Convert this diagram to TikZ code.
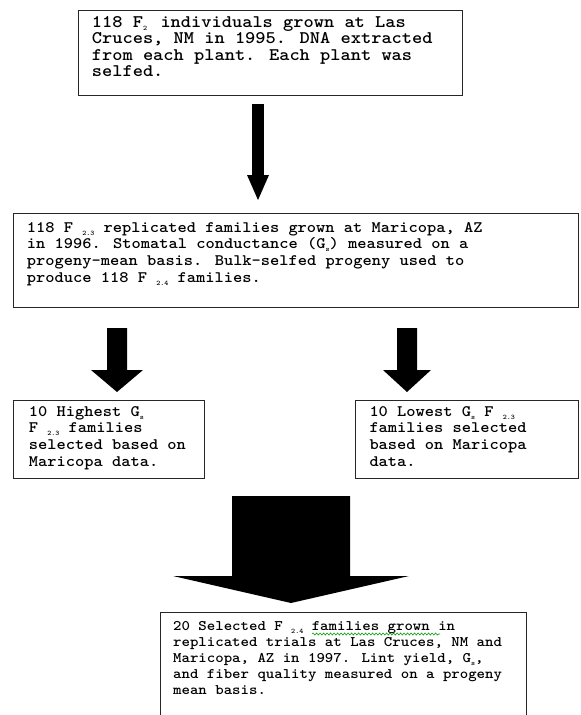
\documentclass[tikz,border=0pt]{standalone}
\usepackage{graphicx}
\usetikzlibrary{calc,decorations.pathmorphing}

\newcommand{\lowidx}[1]{\raisebox{-3pt}{\fontsize{7}{7}\selectfont #1}}
\newcommand{\wide}[1]{\scalebox{1.1}[1]{\parbox[t]{40em}{#1}}}
% filled block arrow: top, tip, shaft half width, head half width, head length
\newcommand{\blockarrow}[5]{%
  \fill[blk] let \p1=(#1), \p2=(#2) in
    (\x1-#3pt,\y1) -- (\x1+#3pt,\y1) -- (\x1+#3pt,\y2+#5pt) -- (\x1+#4pt,\y2+#5pt)
    -- (\x2,\y2) -- (\x1-#4pt,\y2+#5pt) -- (\x1-#3pt,\y2+#5pt) -- cycle;}

\tikzset{
  box/.style={draw=black!85, line width=1.4pt, anchor=north west, inner sep=0pt},
  txt/.style={anchor=base west, inner sep=0pt, font=\ttfamily\bfseries\fontsize{16}{16.8}\selectfont},
  bigtxt/.style={txt, font=\ttfamily\bfseries\fontsize{17.7}{16.5}\selectfont},
  smalltxt/.style={txt, font=\ttfamily\bfseries\fontsize{14.6}{16.2}\selectfont},
  blk/.style={fill=black},
  squiggle/.style={draw=green!60!black, line width=0.6pt, decorate,
    decoration={snake, amplitude=1pt, segment length=3.5pt}}
}

\begin{document}
\begin{tikzpicture}[x=1pt, y=-1pt]
\useasboundingbox (0,0) rectangle (581,715);
\clip (0,0) rectangle (581,715);

% boxes
\node[box, minimum width=384pt, minimum height=85pt] (indiv) at (78,10) {};
\node[box, minimum width=565pt, minimum height=94pt] (maricopa) at (13,213) {};
\node[box, minimum width=191pt, minimum height=78pt] (highest) at (13,400) {};
\node[box, minimum width=223pt, minimum height=78pt] (lowest) at (355,400) {};
\node[box, minimum width=366pt, minimum height=130pt] (selected) at (160,612) {};

% texts
\node[bigtxt] (indivtxt) at ([xshift=13.7pt, yshift=-17.3pt]indiv.north west) {\wide{%
118 F\lowidx{2}\, individuals grown at Las\\
Cruces, NM in 1995. DNA extracted\\
from each plant. Each plant was\\
selfed.}};
\node[txt] (maricopatxt) at ([xshift=13.7pt, yshift=-19pt]maricopa.north west) {\wide{%
118 F \lowidx{2.3} replicated families grown at Maricopa, AZ\\
in 1996. Stomatal conductance (G\lowidx{s}) measured on a\\
progeny-mean basis. Bulk-selfed progeny used to\\
produce 118 F \lowidx{2.4} families.}};
\node[txt] (highesttxt) at ([xshift=15.7pt, yshift=-16pt]highest.north west) {\wide{%
10 Highest G\lowidx{s}\\
F \lowidx{2.3} families\\
selected based on\\
Maricopa data.}};
\node[txt] (lowesttxt) at ([xshift=14.3pt, yshift=-16pt]lowest.north west) {\wide{%
10 Lowest G\lowidx{s} F \lowidx{2.3}\\
families selected\\
based on Maricopa\\
data.}};
\node[smalltxt] (selectedtxt) at ([xshift=13pt, yshift=-18pt]selected.north west) {\wide{%
20 Selected F \lowidx{2.4} families grown in\\
replicated trials at Las Cruces, NM and\\
Maricopa, AZ in 1997. Lint yield, G\lowidx{s},\\
and fiber quality measured on a progeny\\
mean basis.}};
\draw[squiggle] (312,634) -- (440,634);

% arrows
\coordinate (a1top) at (258,104);
\coordinate (a1tip) at (258,200);
\coordinate (a2top) at (117,328);
\coordinate (a2tip) at (117,392);
\coordinate (a3top) at (407,328);
\coordinate (a3tip) at (407,392);
\coordinate (a4top) at (291,496);
\coordinate (a4tip) at (291,603);
\blockarrow{a1top}{a1tip}{5.8}{11}{25}
\blockarrow{a2top}{a2tip}{10}{26}{22}
\blockarrow{a3top}{a3tip}{10}{24}{22}
\blockarrow{a4top}{a4tip}{59}{118}{27}
\end{tikzpicture}
\end{document}
